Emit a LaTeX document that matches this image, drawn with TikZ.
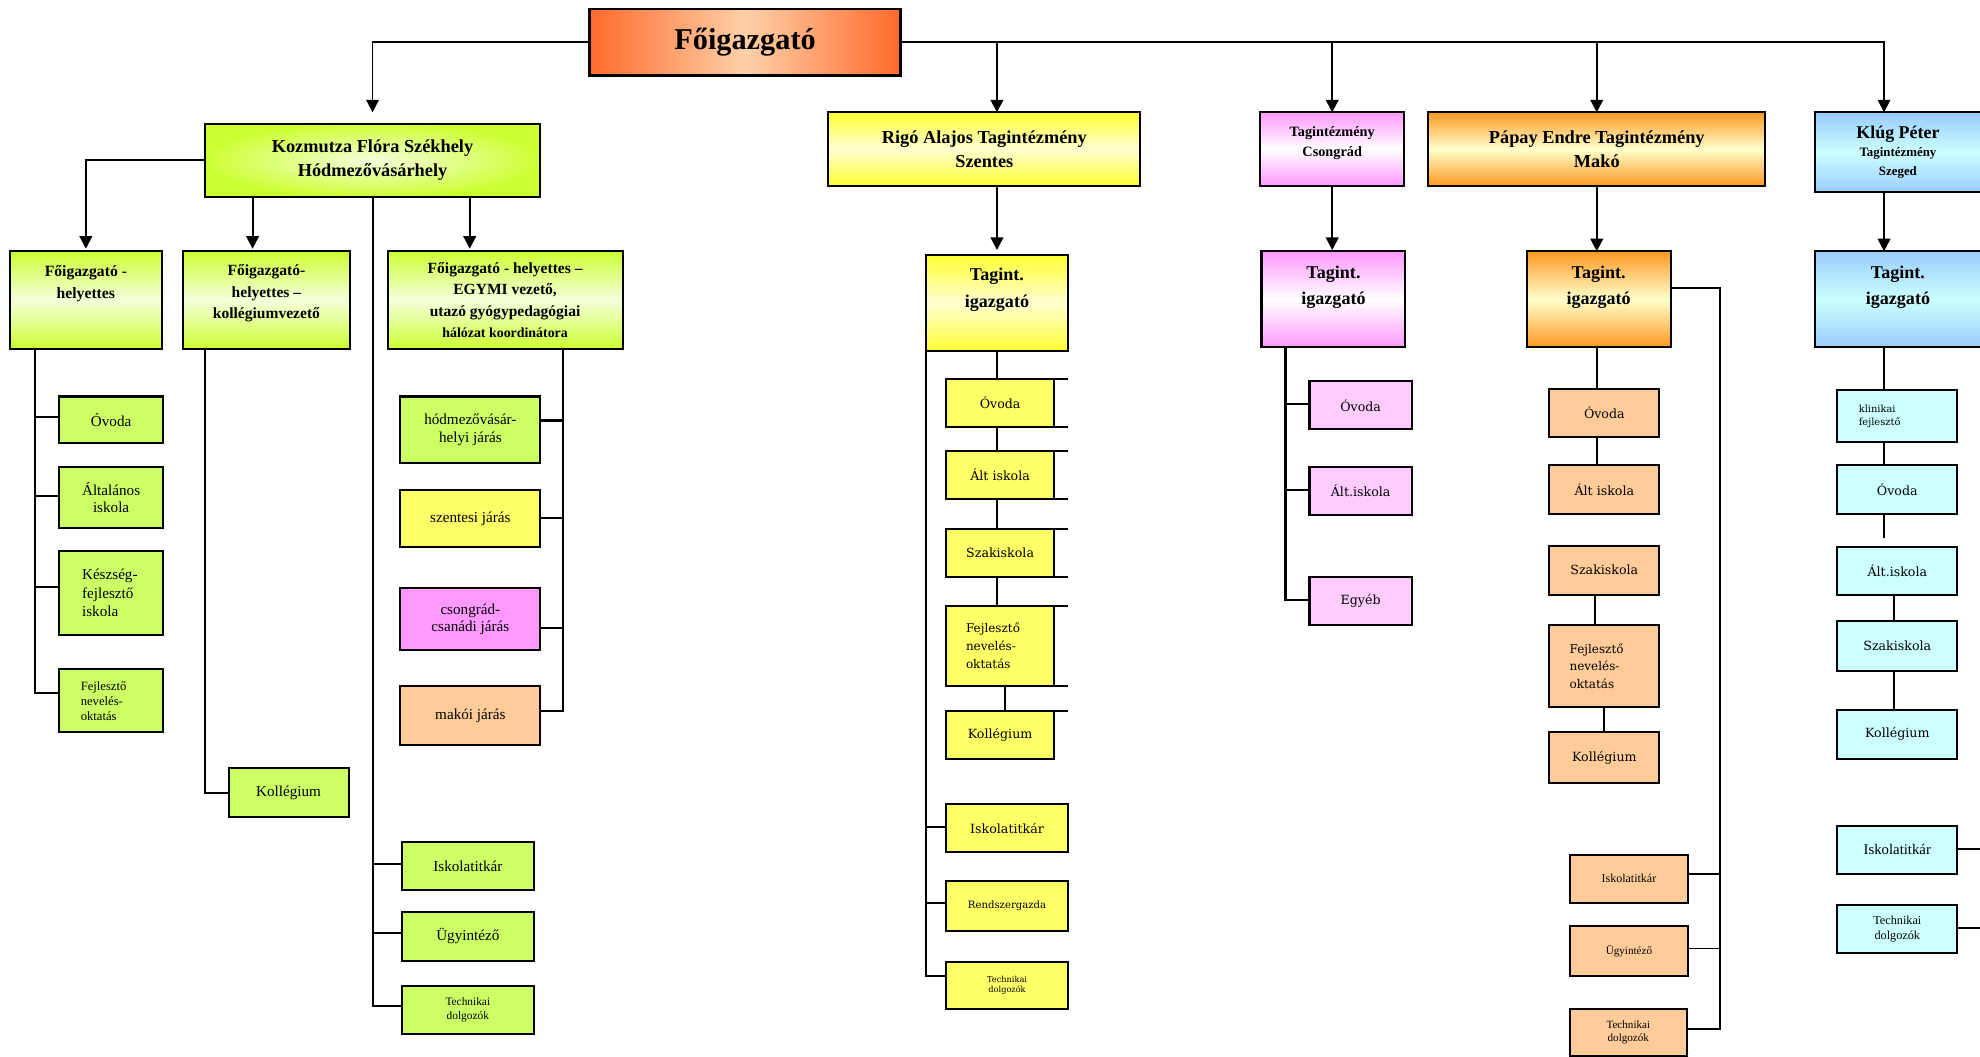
\documentclass[tikz,border=0pt]{standalone}
\usepackage{fontspec}
\setmainfont{Liberation Serif}
\newfontfamily\wf{DejaVu Serif}
\usetikzlibrary{arrows.meta}
\pgfdeclarelayer{bg}
\pgfsetlayers{bg,main}
\definecolor{foE}{HTML}{FF6A2B}
\definecolor{foM}{HTML}{FFD0A8}
\definecolor{limeD}{HTML}{CCFF33}
\definecolor{limeL}{HTML}{F6FFDC}
\definecolor{kozC}{HTML}{CCFF66}
\definecolor{yelD}{HTML}{FFFF33}
\definecolor{yelL}{HTML}{FFFFD2}
\definecolor{yelC}{HTML}{FFFF66}
\definecolor{pinkD}{HTML}{FF99FF}
\definecolor{pinkC}{HTML}{FFCCFF}
\definecolor{orD}{HTML}{FF9922}
\definecolor{orL}{HTML}{FFFFCC}
\definecolor{peach}{HTML}{FFCC99}
\definecolor{blD}{HTML}{99CCFF}
\definecolor{blL}{HTML}{CCFFFF}
\definecolor{cyanC}{HTML}{CCFFFF}
\newcommand{\bx}[7]{\node[#6, minimum width={#4-#2}, minimum height={#5-#3}] (#1) at ({(#2+#4)/2},{(#3+#5)/2}) {#7};}
\newcommand{\liftup}[2]{\begin{tabular}{@{}c@{}}#2\\[#1]\end{tabular}}
\begin{document}
\begin{tikzpicture}[x=1pt, y=-1pt,
  bxs/.style={draw=black, line width=1.6pt, inner sep=1pt, outer sep=0pt, align=center},
  con/.style={draw=black, line width=1.6pt},
  thinline/.style={draw=black, line width=1.1pt},
  arr/.style={con, -{Triangle[length=10pt,width=10pt]}},
  hdr/.style={font=\fontsize{14.5}{19}\selectfont\bfseries},
  tg/.style={font=\fontsize{14.3}{21}\selectfont\bfseries},
  lv3/.style={font=\fontsize{12.3}{17}\selectfont\bfseries, top color=limeD, bottom color=limeD, middle color=limeL},
  tm/.style={font=\fontsize{12}{14}\selectfont},
  wd/.style={font=\wf\fontsize{10}{12}\selectfont},
  kk/.style={bxs, fill=kozC, tm},
  rk/.style={bxs, fill=yelC, wd},
  ck/.style={bxs, fill=pinkC, wd},
  pk/.style={bxs, fill=peach, wd},
  qk/.style={bxs, fill=cyanC, wd}]
\useasboundingbox (0,0) rectangle (1568,837);
% level 0
\bx{fo}{467}{7}{713}{60}{bxs, line width=2pt, left color=foE, right color=foE, middle color=foM, font=\fontsize{24}{28}\selectfont\bfseries}{Főigazgató}
% level 1
\bx{koz}{162}{98}{428}{156}{bxs, inner color=limeL, outer color=limeD, hdr}{Kozmutza Flóra Székhely\\Hódmezővásárhely}
\bx{rigo}{656}{89}{903}{147}{bxs, top color=yelD, bottom color=yelD, middle color=yelL, hdr}{Rigó Alajos Tagintézmény\\Szentes}
\bx{cso}{998}{89}{1112}{147}{bxs, top color=pinkD, bottom color=pinkD, middle color=white, font=\fontsize{11.3}{16}\selectfont\bfseries}{\liftup{10pt}{Tagintézmény\\Csongrád}}
\bx{pap}{1131}{89}{1398}{147}{bxs, top color=orD, bottom color=orD, middle color=orL, hdr}{Pápay Endre Tagintézmény\\Makó}
\bx{klu}{1437}{89}{1569}{152}{bxs, top color=blD, bottom color=blD, middle color=blL, font=\fontsize{10.2}{15}\selectfont\bfseries}{{\fontsize{14.2}{17}\selectfont Klúg Péter}\\Tagintézmény\\Szeged}
% level 2
\bx{rt}{733}{202}{846}{278}{bxs, top color=yelD, bottom color=yelD, middle color=yelL, tg}{\liftup{23pt}{Tagint.\\igazgató}}
\bx{ct}{999}{199}{1113}{275}{bxs, top color=pinkD, bottom color=pinkD, middle color=white, tg}{\liftup{21pt}{Tagint.\\igazgató}}
\bx{pt}{1209}{199}{1323}{275}{bxs, top color=orD, bottom color=orD, middle color=orL, tg}{\liftup{21pt}{Tagint.\\igazgató}}
\bx{kt}{1437}{199}{1569}{275}{bxs, top color=blD, bottom color=blD, middle color=blL, tg}{\liftup{21pt}{Tagint.\\igazgató}}
\bx{h1}{8}{199}{128}{276}{bxs, lv3, font=\fontsize{12.4}{18}\selectfont\bfseries}{\liftup{27pt}{Főigazgató -\\helyettes}}
\bx{h2}{145}{199}{277}{276}{bxs, lv3}{\liftup{11pt}{Főigazgató-\\helyettes –\\kollégiumvezető}}
\bx{h3}{307}{199}{493}{276}{bxs, lv3}{Főigazgató - helyettes –\\EGYMI vezető,\\utazó gyógypedagógiai\\{\fontsize{11}{13}\selectfont hálózat koordinátora}}
% Kozmutza children
\bx{k1}{47}{314}{129}{351}{kk}{Óvoda}
\bx{k2}{47}{370}{129}{418}{kk}{Általános\\iskola}
\bx{k3}{47}{436}{129}{503}{kk, align=left, text width=46pt, font=\fontsize{12}{14.5}\selectfont}{Készség-\\fejlesztő\\iskola}
\bx{k4}{47}{530}{129}{580}{kk, align=left, text width=48pt, font=\fontsize{10}{12}\selectfont}{Fejlesztő\\nevelés-\\oktatás}
\bx{kol}{181}{608}{276}{647}{kk}{Kollégium}
\bx{j1}{317}{314}{428}{367}{kk}{hódmezővásár-\\helyi járás}
\bx{j2}{317}{388}{428}{433}{bxs, fill=yelC, tm}{szentesi járás}
\bx{j3}{317}{466}{428}{515}{bxs, fill=pinkD, tm}{csongrád-\\csanádi járás}
\bx{j4}{317}{543}{428}{590}{bxs, fill=peach, tm}{makói járás}
\bx{s1}{318}{667}{423}{705}{kk}{Iskolatitkár}
\bx{s2}{318}{722}{423}{761}{kk}{Ügyintéző}
\bx{s3}{318}{781}{423}{819}{kk, font=\fontsize{9}{11}\selectfont}{Technikai\\dolgozók}
% Rigó children
\bx{r1}{749}{300}{835}{338}{rk}{Óvoda}
\bx{r2}{749}{357}{835}{395}{rk}{Ált iskola}
\bx{r3}{749}{419}{835}{457}{rk}{Szakiskola}
\bx{r4}{749}{480}{835}{543}{rk, align=left, text width=54pt, font=\wf\fontsize{9.5}{14}\selectfont}{Fejlesztő\\nevelés-\\oktatás}
\bx{r5}{749}{563}{835}{601}{rk}{Kollégium}
\bx{r6}{749}{637}{846}{675}{rk}{Iskolatitkár}
\bx{r7}{749}{698}{846}{737}{rk, font=\wf\fontsize{8}{10}\selectfont}{Rendszergazda}
\bx{r8}{749}{762}{846}{799}{rk, font=\wf\fontsize{6.5}{8}\selectfont}{Technikai\\dolgozók}
% Csongrád children
\bx{c1}{1037}{302}{1118}{340}{ck}{Óvoda}
\bx{c2}{1037}{370}{1118}{408}{ck}{Ált.iskola}
\bx{c3}{1037}{457}{1118}{495}{ck}{Egyéb}
% Pápay children
\bx{p1}{1227}{308}{1314}{346}{pk}{Óvoda}
\bx{p2}{1227}{368}{1314}{407}{pk}{Ált iskola}
\bx{p3}{1227}{432}{1314}{471}{pk}{Szakiskola}
\bx{p4}{1227}{495}{1314}{560}{pk, align=left, text width=55pt, font=\wf\fontsize{9.5}{14}\selectfont}{Fejlesztő\\nevelés-\\oktatás}
\bx{p5}{1227}{580}{1314}{620}{pk}{Kollégium}
\bx{p6}{1243}{677}{1337}{715}{pk, font=\fontsize{9.5}{11}\selectfont}{Iskolatitkár}
\bx{p7}{1243}{733}{1337}{773}{pk, font=\fontsize{8.8}{11}\selectfont}{Ügyintéző}
\bx{p8}{1243}{799}{1336}{836}{pk, font=\fontsize{8.8}{11}\selectfont}{Technikai\\dolgozók}
% Klúg children
\bx{q1}{1455}{309}{1550}{350}{qk, align=left, text width=61pt, font=\wf\fontsize{7.8}{10}\selectfont}{klinikai\\fejlesztő}
\bx{q2}{1455}{368}{1550}{407}{qk}{Óvoda}
\bx{q3}{1455}{433}{1550}{471}{qk}{Ált.iskola}
\bx{q4}{1455}{492}{1550}{531}{qk}{Szakiskola}
\bx{q5}{1455}{562}{1550}{601}{qk}{Kollégium}
\bx{q6}{1455}{654}{1550}{692}{qk, font=\fontsize{11.7}{14}\selectfont}{Iskolatitkár}
\bx{q7}{1455}{717}{1550}{755}{qk, font=\fontsize{9.7}{12}\selectfont}{Technikai\\dolgozók}
% connectors
\begin{pgfonlayer}{bg}
\draw[arr, line width=1.4pt, shorten >=9pt] (fo.west) -| (koz.north);
\draw[arr, line width=1.4pt] (fo.east) -| ([xshift=-11pt]klu.north);
\draw[arr] (fo.east -| rt.north) -- (rigo.north -| rt.north);
\draw[arr] (fo.east -| cso.north) -- (cso.north);
\draw[arr] (fo.east -| pap.north) -- (pap.north);
\draw[arr, shorten >=4pt] (rigo.south -| rt.north) -- (rt.north);
\draw[arr, shorten >=1pt] (cso.south) -- (cso.south |- ct.north);
\draw[arr] (pap.south) -- (pap.south |- pt.north);
\draw[arr] ([xshift=-11pt]klu.south) -- ([xshift=-11pt]kt.north);
\draw[arr, shorten >=2pt] (koz.west) -| (h1.north);
\draw[arr, shorten >=2pt] (koz.south -| 200,0) -- (h2.north -| 200,0);
\draw[arr, shorten >=2pt] (koz.south -| 372,0) -- (h3.north -| 372,0);
% Kozmutza level 3
\draw[con] (h1.south -| 28,0) |- (k4.west |- 0,549);
\draw[con] (k1.west |- 0,330) -- ++(-19,0);
\draw[con] (k2.west |- 0,393) -- ++(-19,0);
\draw[con] (k3.west |- 0,465) -- ++(-19,0);
\draw[con] (h2.south -| 162,0) |- (kol.west |- 0,628);
\draw[con] (h3.south -| 446,0) |- (j4.east |- 0,563);
\draw[con] (j1.east |- 0,333) -- ++(18,0);
\draw[con] (j2.east |- 0,410) -- ++(18,0);
\draw[con] (j3.east |- 0,497) -- ++(18,0);
\draw[con] ([yshift=12pt]koz.south) |- (s3.west |- 0,797);
\draw[con] (s1.west |- 0,684) -- ++(-23,0);
\draw[con] (s2.west |- 0,739) -- ++(-23,0);
% Rigó
\draw[con] (rt.south) -- (rt.south |- r4.north);
\draw[con] (r4.south -| 796,0) -- (r5.north -| 796,0);
\draw[con] (rt.south west) |- (r8.west |- 0,773);
\draw[con] (r6.west |- 0,655) -- ++(-16,0);
\draw[con] (r7.west |- 0,715) -- ++(-16,0);
\foreach \n in {r1,r2,r3,r4} {\draw[con] (\n.north east) -- ++(11,0); \draw[con] (\n.south east) -- ++(11,0);}
\draw[con] (r5.north east) -- ++(11,0);
% Csongrád
\draw[con] (ct.south -| 1018,0) |- (c3.west |- 0,475);
\draw[con] (c1.west |- 0,320) -- ++(-19,0);
\draw[con] (c2.west |- 0,388) -- ++(-19,0);
% Pápay
\draw[con] (pt.south -| 1265,0) -- (p2.north -| 1265,0);
\draw[con] (p3.south -| 1263,0) -- (p4.north -| 1263,0);
\draw[con] (p4.south -| 1270,0) -- (p5.north -| 1270,0);
\draw[thinline] (pt.east |- 0,228) -| (1362,815) -- (p8.east |- 0,815);
\draw[thinline] (p6.east |- 0,692) -- ++(25,0);
\draw[thinline] (p7.east |- 0,751) -- ++(25,0);
% Klúg
\draw[con] ([xshift=-11pt]kt.south) -- (q2.north -| 1492,0);
\draw[con] (q2.south -| 1492,0) -- ++(0,19);
\draw[con] (q3.south -| 1500,0) -- (q5.north -| 1500,0);
\draw[con] (q6.east |- 0,672) -- ++(25,0);
\draw[con] (q7.east |- 0,735) -- ++(25,0);
\end{pgfonlayer}
\end{tikzpicture}
\end{document}
